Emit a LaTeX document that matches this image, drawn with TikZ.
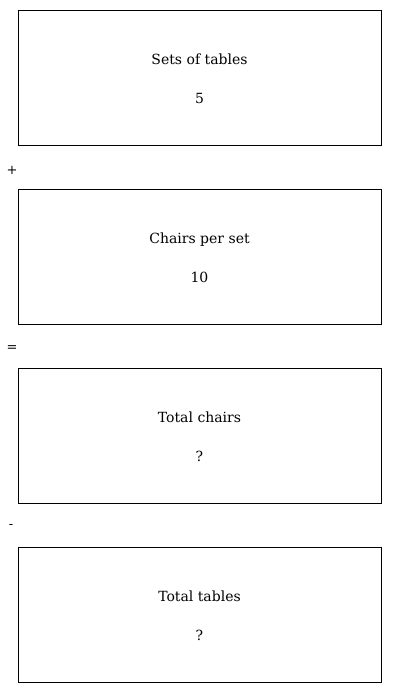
\documentclass[tikz,border=0pt]{standalone}
\usepackage{fontspec}
\setmainfont{DejaVu Serif}
\begin{document}
\begin{tikzpicture}[x=1pt,y=-1pt,
  box/.style={draw,line width=0.9pt,minimum width=363pt,minimum height=135pt,inner sep=0pt},
  lbl/.style={font=\fontsize{14}{16}\selectfont,inner sep=0pt,anchor=base},
  op/.style={font=\fontsize{13}{15}\selectfont,inner sep=0pt}]
\useasboundingbox (0,0) rectangle (400,693);
\node[box] (b1) at (199.5,77.5) {};
\node[box] (b2) at (199.5,256.5) {};
\node[box] (b3) at (199.5,435.5) {};
\node[box] (b4) at (199.5,614.5) {};
\node[lbl] (t1) at (199.5,64.5) {Sets of tables};
\node[lbl] (v1) at (199.5,103.5) {5};
\node[lbl] (t2) at (199.5,243.5) {Chairs per set};
\node[lbl] (v2) at (199.5,282.5) {10};
\node[lbl] (t3) at (199.5,422.5) {Total chairs};
\node[lbl] (v3) at (199.5,461.5) {?};
\node[lbl] (t4) at (199.5,601.5) {Total tables};
\node[lbl] (v4) at (199.5,640.5) {?};
\node[op] (o1) at (12,170) {+};
\node[op] (o2) at (12,349) {=};
\node[op] (o3) at (11,527) {-};
\end{tikzpicture}
\end{document}
